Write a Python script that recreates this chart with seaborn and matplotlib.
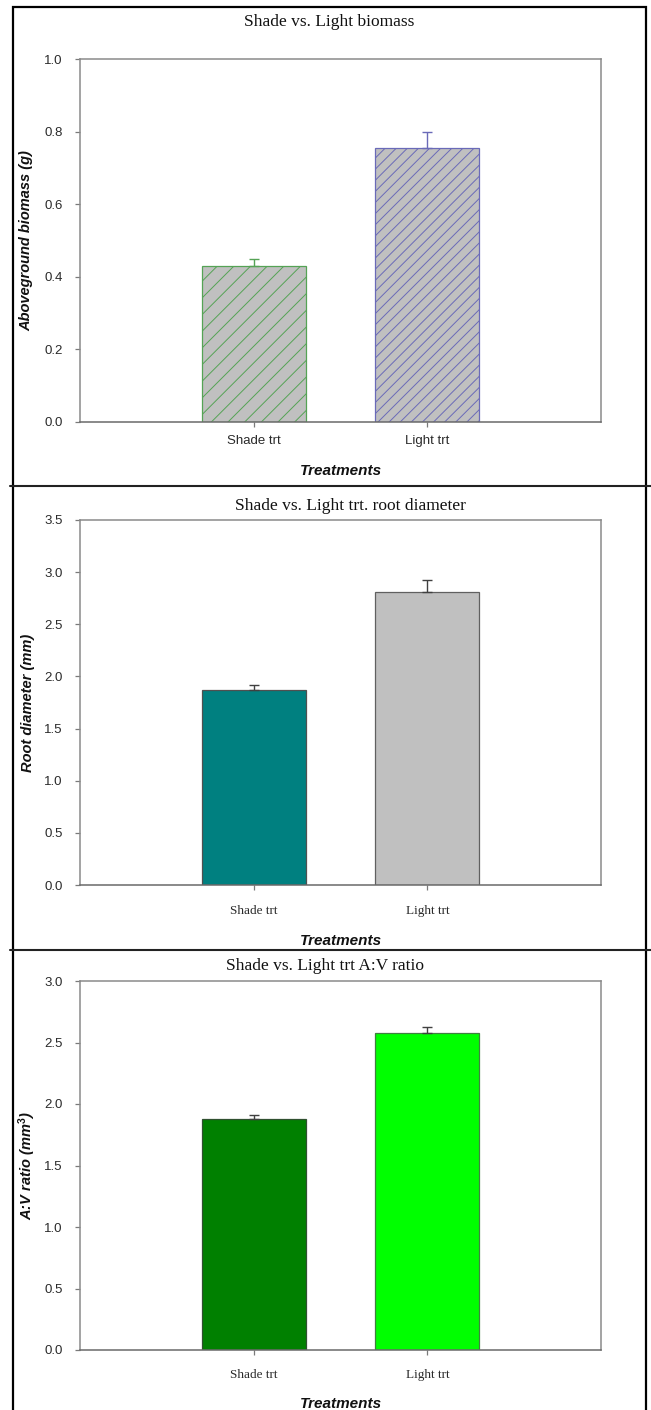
import numpy as np
import pandas as pd
import matplotlib
matplotlib.use("Agg")
import matplotlib.pyplot as plt
import seaborn as sns
from matplotlib.patches import Rectangle
from matplotlib.lines import Line2D
from matplotlib.ticker import FormatStrFormatter

# ---------------- data ----------------
treatments = ["Shade trt", "Light trt"]

biomass = [0.43, 0.755]
biomass_err = [0.02, 0.045]

root_diameter = [1.87, 2.81]
root_diameter_err = [0.05, 0.11]

av_ratio = [1.88, 2.58]
av_ratio_err = [0.03, 0.05]

titles = ["Shade vs. Light biomass",
          "Shade vs. Light trt. root diameter",
          "Shade vs. Light trt A:V ratio"]
ylabels = ["Aboveground biomass (g)",
           "Root diameter (mm)",
           "A:V ratio (mm$^3$)"]
xlabel = "Treatments"

# ---------------- style ----------------
sns.set_style("white")
plt.rcParams['font.family'] = ['Liberation Sans', 'DejaVu Sans']
plt.rcParams['hatch.linewidth'] = 0.7
plt.rcParams['mathtext.fontset'] = 'custom'
plt.rcParams['mathtext.it'] = 'Liberation Sans:italic:bold'
plt.rcParams['mathtext.rm'] = 'Liberation Sans:bold'

W, H = 651, 1410
fig = plt.figure(figsize=(W / 100, H / 100), dpi=100)


def axrect(l, t, r, b):
    return [l / W, 1 - b / H, (r - l) / W, (b - t) / H]


def panel(rect, vals, errs, ylim, ystep, fills, edges, errcols, hatches,
          ylabel, ylabel_x, xtick_family, xtick_pad, xlabel_pad):
    ax = fig.add_axes(rect)
    df = pd.DataFrame({"trt": treatments, "val": vals})
    sns.barplot(data=df, x="trt", y="val", hue="trt", palette=fills,
                width=0.6, legend=False, ax=ax, errorbar=None, saturation=1)
    for i, bar in enumerate(ax.patches):
        bar.set_edgecolor(edges[i])
        bar.set_linewidth(0.9)
        if hatches[i]:
            bar.set_hatch(hatches[i])
    pos = np.arange(len(treatments))
    for i in range(len(treatments)):
        ax.errorbar(pos[i], vals[i], yerr=[[0], [errs[i]]], fmt='none',
                    ecolor=errcols[i], elinewidth=1.0, capsize=3.6,
                    capthick=1.0, zorder=1)
    ax.set_xlim(-1, 2)
    ax.set_ylim(*ylim)
    ax.set_yticks(np.arange(ylim[0], ylim[1] + 1e-9, ystep))
    ax.yaxis.set_major_formatter(FormatStrFormatter('%.1f'))
    for s in ax.spines.values():
        s.set_visible(True)
        s.set_color('#8a8a8a')
        s.set_linewidth(1.1)
    ax.spines['bottom'].set_color('#6a6a6a')
    ax.tick_params(axis='both', direction='out', length=3.5, width=0.9,
                   color='#7a7a7a', labelcolor='#2a2a2a')
    ax.tick_params(axis='y', left=True, pad=9, labelsize=9.5)
    ax.tick_params(axis='x', bottom=True, pad=xtick_pad, labelsize=9.5)
    for lab in ax.get_xticklabels():
        lab.set_family(xtick_family)
    ax.set_ylabel(ylabel, fontsize=10.5, fontweight='bold', style='italic',
                  color='#111111')
    ax.yaxis.set_label_coords(ylabel_x, 0.5)
    ax.set_xlabel(xlabel, fontsize=11, fontweight='bold', style='italic',
                  labelpad=xlabel_pad, color='#111111')
    return ax


# panel 1
panel(axrect(80, 59, 601, 422), biomass, biomass_err, (0, 1.0), 0.2,
      ["#c0c0c0", "#c0c0c0"], ["#55a355", "#6a6ab8"],
      ["#55a355", "#6a6ab8"], ["//", "///"],
      ylabels[0], -0.090, ['Liberation Sans'], 6, 12)

# panel 2
panel(axrect(80, 520, 601, 885), root_diameter, root_diameter_err, (0, 3.5),
      0.5, ["#008080", "#c0c0c0"], ["#505050", "#606060"],
      ["#404040", "#404040"], [None, None],
      ylabels[1], -0.086, ['Liberation Serif'], 11, 12)

# panel 3
panel(axrect(80, 981, 601, 1350), av_ratio, av_ratio_err, (0, 3.0), 0.5,
      ["#008000", "#00ff00"], ["#305030", "#408040"],
      ["#404040", "#404040"], [None, None],
      ylabels[2], -0.081, ['Liberation Serif'], 10, 11.5)

# titles
title_pos = [(329, 22), (350, 506), (325, 966)]
for t, (x, y) in zip(titles, title_pos):
    fig.text(x / W, 1 - y / H, t, ha='center', va='center',
             family=['Liberation Serif'], fontsize=12.5, color='#111111')

# outer frame and dividers
fig.add_artist(Rectangle((13 / W, -0.01), (646 - 13) / W, (H - 7) / H + 0.01,
                         transform=fig.transFigure, fill=False,
                         edgecolor='black', linewidth=1.6))
for yd in (486, 950):
    fig.add_artist(Line2D([10 / W, 651 / W], [1 - yd / H, 1 - yd / H],
                          transform=fig.transFigure, color='#222222',
                          linewidth=1.5))

fig.savefig("out.png", dpi=100)
